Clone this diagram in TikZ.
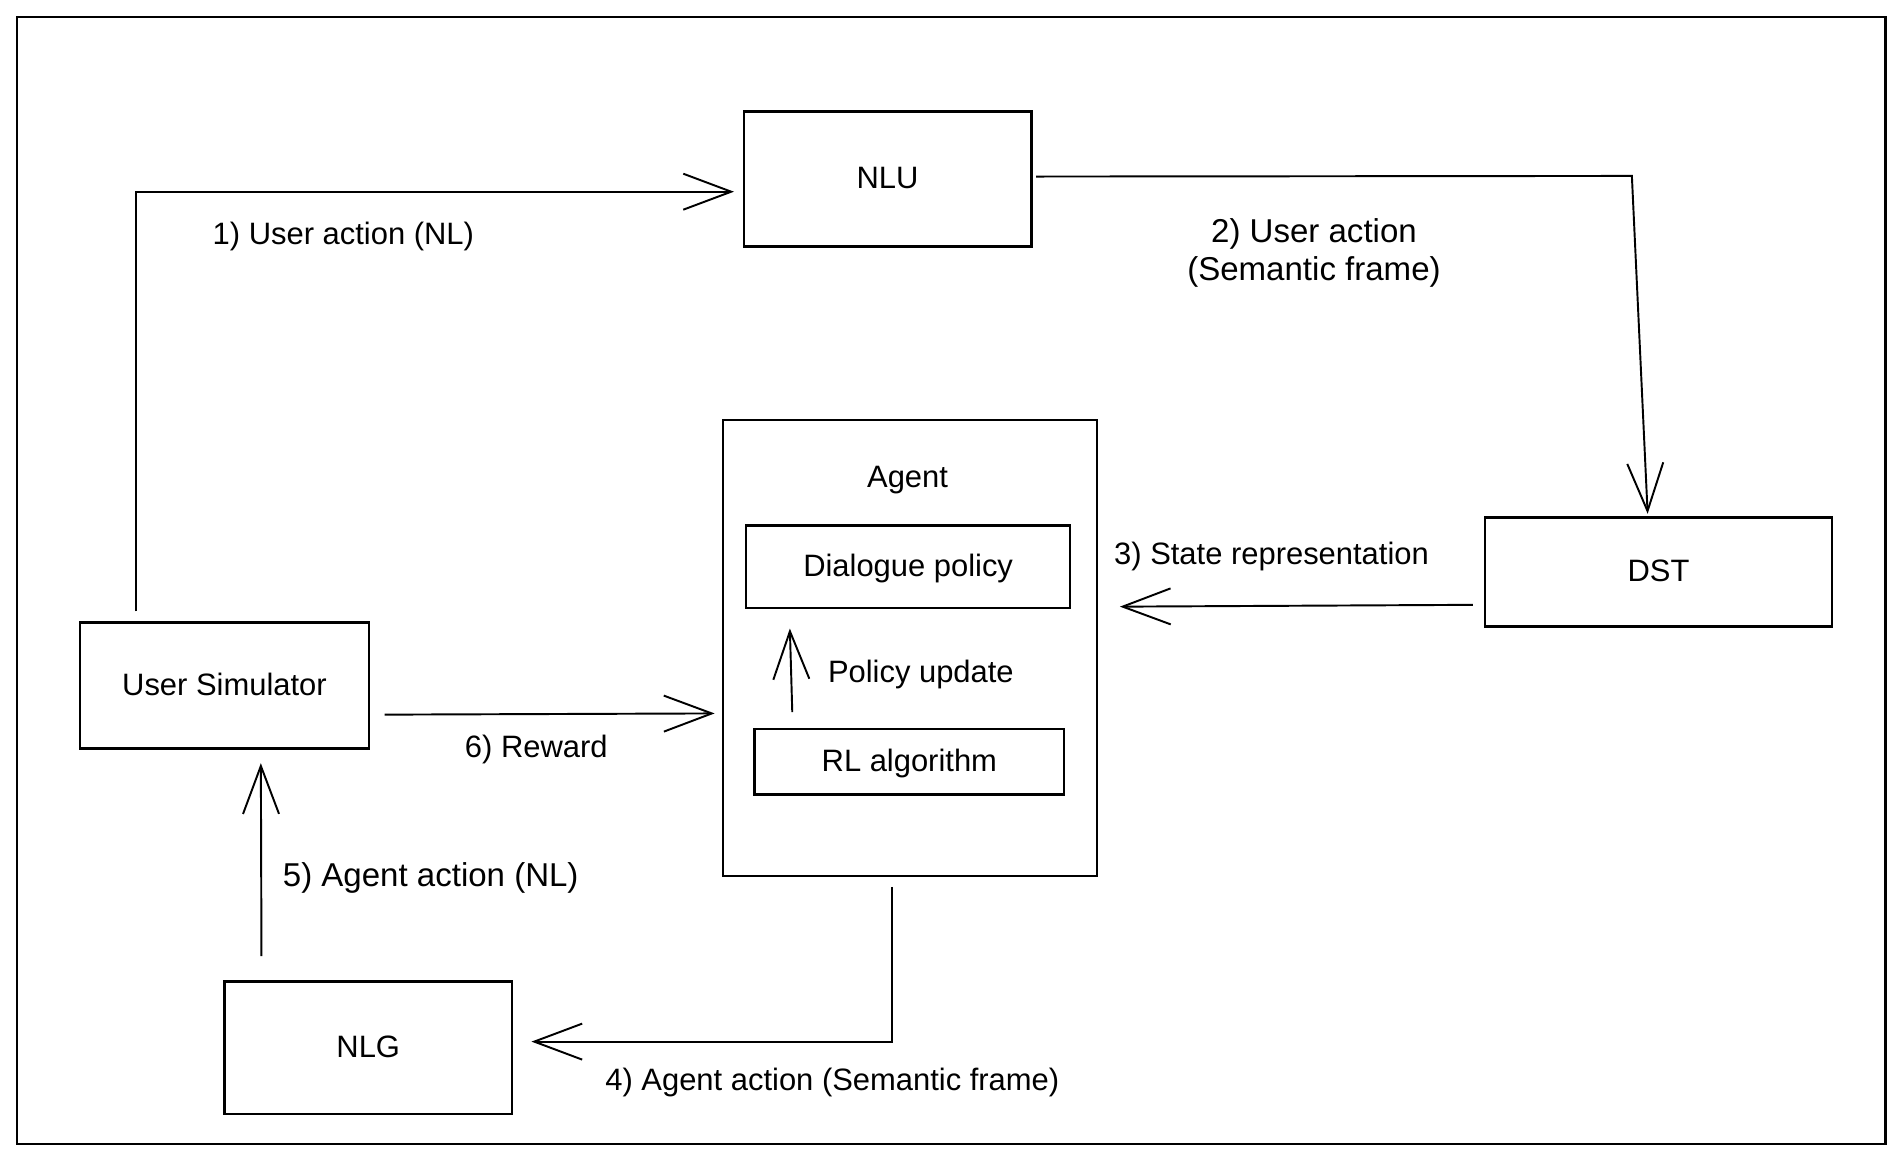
\documentclass[tikz,border=0pt]{standalone}
\usepackage{fontspec}
\setmainfont{Liberation Sans}
\usetikzlibrary{arrows.meta, calc}

\begin{document}
\begin{tikzpicture}[x=0.12133mm, y=-0.12133mm,
  box/.style={draw, line width=0.7pt, inner sep=0pt, text height=0.56em, text depth=0pt, font=\fontsize{8.8}{10.6}\selectfont},
  lbl/.style={inner sep=0pt, align=center, font=\fontsize{8.8}{10.6}\selectfont},
  biglbl/.style={inner sep=0pt, align=center, font=\fontsize{9.4}{10.9}\selectfont},
  flow/.style={line width=0.55pt, -{Straight Barb[length=4.8mm, width=3.6mm, line width=0.55pt]}}]
% Page and outer frame
\useasboundingbox (0,0) rectangle (1566,955.2);
\draw[line width=0.7pt] (14,14) rectangle (1554,943);
% Boxes
\node[box, minimum width=237*0.12133mm, minimum height=111*0.12133mm] (nlu) at (731.5,147.5) {NLU};
\node[box, minimum width=286*0.12133mm, minimum height=90*0.12133mm] (dst) at (1367,471.5) {DST};
\node[box, minimum width=308*0.12133mm, minimum height=376*0.12133mm] (agent) at (750,534) {};
\node[lbl] (agenttitle) at (748,396) {Agent};
\node[box, minimum width=267*0.12133mm, minimum height=68*0.12133mm] (dp) at (748.5,467) {Dialogue policy};
\node[box, minimum width=255*0.12133mm, minimum height=54*0.12133mm] (rl) at (749.5,628) {RL algorithm};
\node[box, minimum width=238*0.12133mm, minimum height=104*0.12133mm] (usim) at (185,565) {User Simulator};
\node[box, minimum width=237*0.12133mm, minimum height=109*0.12133mm] (nlg) at (303.5,863.5) {NLG};
% 1) User Simulator to NLU
\draw[flow] ($(usim.north west)+(47,-8)$) |- ($(nlu.west)+(-7,10.5)$);
\node[lbl] (l1) at (283,195) {1) User action (NL)};
% 2) NLU to DST
\coordinate (c2) at (1345,145);
\draw[flow] ($(nlu.east)+(3,-2)$) -- (c2) -- ($(dst.north)+(-9,-2)$);
\node[biglbl] (l2) at (1083,208.5) {2) User action\\(Semantic frame)};
% 3) DST to Agent
\draw[flow] ($(dst.west)+(-9,27)$) -- ($(agent.east)+(18,-34)$);
\node[lbl] (l3) at (1048,459) {3) State representation};
% 4) Agent to NLG
\draw[flow] ($(agent.south)+(-15,8)$) |- ($(nlg.east)+(15,-5)$);
\node[lbl] (l4) at (686,892) {4) Agent action (Semantic frame)};
% 5) NLG to User Simulator
\draw[flow] ($(nlg.north)+(-88,-20)$) -- ($(usim.south)+(30,11)$);
\node[biglbl] (l5) at (355,724) {5) Agent action (NL)};
% 6) User Simulator to Agent
\draw[flow] ($(usim.east)+(12,24)$) -- ($(agent.west)+(-6,54)$);
\node[lbl] (l6) at (442,618) {6) Reward};
% Policy update inside the agent
\draw[flow] ($(rl.north)+(-96.5,-13)$) -- ($(dp.south)+(-97.5,16)$);
\node[lbl] (lpu) at (759,556) {Policy update};
\end{tikzpicture}
\end{document}
